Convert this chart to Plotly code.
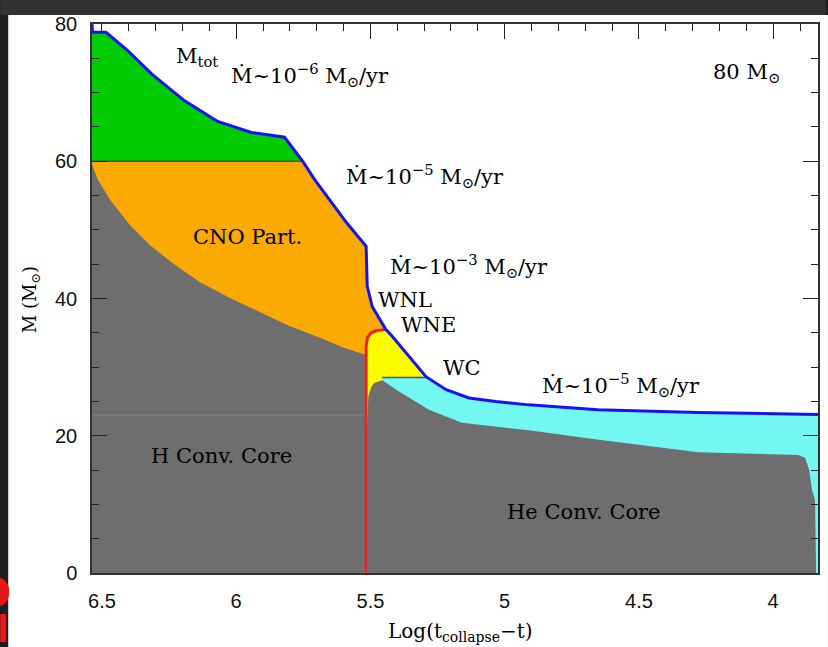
import plotly.graph_objects as go

# ---- data: mass structure of an 80 Msun star vs. log time to collapse ----
# total mass (blue track)
mtot_x = [6.537, 6.535, 6.485, 6.403, 6.314, 6.192, 6.069, 5.943, 5.820, 5.757, 5.752,
          5.709, 5.653, 5.590, 5.516, 5.512, 5.493, 5.456, 5.443, 5.419, 5.367, 5.293,
          5.218, 5.133, 5.033, 4.910, 4.652, 4.280, 3.833]
mtot_y = [80.0, 78.8, 78.8, 76.1, 72.7, 68.8, 65.8, 64.2, 63.5, 60.3, 60.0,
          57.4, 54.5, 51.1, 47.6, 41.8, 38.8, 36.5, 35.5, 34.5, 32.1, 28.6,
          26.7, 25.5, 25.0, 24.5, 23.8, 23.4, 23.1]

# top of the hydrogen convective core
hcore_x = [6.537, 6.515, 6.470, 6.396, 6.322, 6.229, 6.136, 6.025, 5.913, 5.802,
           5.690, 5.597, 5.519, 5.516]
hcore_y = [59.5, 57.3, 54.4, 50.7, 47.8, 44.9, 42.4, 40.1, 38.0, 36.0,
           34.3, 32.8, 31.8, 31.8]

# top of the helium convective core
hecore_x = [5.512, 5.512, 5.508, 5.497, 5.486, 5.467, 5.456, 5.404, 5.282, 5.159,
            4.910, 4.650, 4.279, 3.907, 3.881, 3.866, 3.855, 3.844, 3.840]
hecore_y = [0.0, 20.8, 25.7, 27.1, 27.7, 28.0, 28.1, 26.7, 23.8, 21.9,
            20.8, 19.4, 17.6, 17.2, 16.8, 15.0, 12.1, 10.6, 0.0]

# end of core H burning (red track): vertical drop and the cap below the surface
red_x = [5.516, 5.516, 5.511, 5.498, 5.478, 5.458, 5.443]
red_y = [0.0, 33.0, 34.3, 35.0, 35.3, 35.4, 35.5]

m_init = 60.0        # boundary between green and orange zones
wc_level = 28.5      # WNE / WC transition level
x_left, x_right = 6.537, 3.833

# phase labels: (text, x, y)
labels = [
    ("M<sub>tot</sub>", 6.147, 75.2),
    ("Ṁ~10<sup>−6</sup> M<sub>⊙</sub>/yr", 5.724, 72.6),
    ("80 M<sub>⊙</sub>", 4.100, 72.9),
    ("Ṁ~10<sup>−5</sup> M<sub>⊙</sub>/yr", 5.296, 57.9),
    ("CNO Part.", 5.958, 49.0),
    ("Ṁ~10<sup>−3</sup> M<sub>⊙</sub>/yr", 5.133, 44.8),
    ("WNL", 5.371, 39.8),
    ("WNE", 5.282, 36.2),
    ("WC", 5.159, 29.9),
    ("Ṁ~10<sup>−5</sup> M<sub>⊙</sub>/yr", 4.568, 27.4),
    ("H Conv. Core", 6.054, 17.1),
    ("He Conv. Core", 4.706, 8.9),
]

GREEN = "#00cc00"
ORANGE = "#fbaa04"
YELLOW = "#fcfc00"
CYAN = "#72f7f3"
GRAY = "#6e6e6e"
BLUE = "#1414f0"
RED = "#f02020"

i60 = mtot_y.index(m_init)
icap = mtot_x.index(red_x[-1])
iwc = mtot_x.index(5.293)

fig = go.Figure()


def poly(xs, ys, color):
    fig.add_trace(go.Scatter(x=xs, y=ys, fill="toself", fillcolor=color, mode="lines",
                             line=dict(width=0, color=color), hoverinfo="skip",
                             showlegend=False))


# orange zone (partial CNO processing) beneath the surface
poly([x_left, x_left] + mtot_x[i60:icap + 1] + [mtot_x[icap]],
     [0, m_init] + mtot_y[i60:icap + 1] + [0], ORANGE)
# green zone: outer layers above the initial convective core
poly(mtot_x[:i60 + 1] + [x_left], mtot_y[:i60 + 1] + [m_init], GREEN)
# yellow zone under the red cap (WNE)
poly(red_x + mtot_x[icap + 1:iwc + 1] + [mtot_x[iwc], hecore_x[6], hecore_x[6]],
     red_y + mtot_y[icap + 1:iwc + 1] + [wc_level, wc_level, 0], YELLOW)
# cyan zone (WC)
poly([hecore_x[6]] + mtot_x[iwc:] + [x_right, hecore_x[6]],
     [wc_level] + mtot_y[iwc:] + [0, 0], CYAN)
# H convective core
poly([x_left] + hcore_x + [hcore_x[-1]], [0] + hcore_y + [0], GRAY)
# He convective core
poly(hecore_x, hecore_y, GRAY)

# boundary lines
fig.add_trace(go.Scatter(x=[x_left, mtot_x[i60]], y=[m_init, m_init], mode="lines",
                         line=dict(color="#505050", width=1.5), hoverinfo="skip",
                         showlegend=False))
fig.add_trace(go.Scatter(x=[hecore_x[6], mtot_x[iwc]], y=[wc_level, wc_level], mode="lines",
                         line=dict(color="#505050", width=1.5), hoverinfo="skip",
                         showlegend=False))
fig.add_trace(go.Scatter(x=[x_left, hcore_x[-1]], y=[23.0, 23.0], mode="lines",
                         line=dict(color="#858585", width=1), hoverinfo="skip",
                         showlegend=False))
fig.add_trace(go.Scatter(x=red_x, y=red_y, mode="lines", line=dict(color=RED, width=3),
                         hoverinfo="skip", showlegend=False))
fig.add_trace(go.Scatter(x=mtot_x, y=mtot_y, mode="lines", line=dict(color=BLUE, width=3),
                         hoverinfo="skip", showlegend=False))

for txt, x, y in labels:
    fig.add_annotation(x=x, y=y, text=txt, showarrow=False,
                       font=dict(family="DejaVu Serif", size=21, color="black"))

# page geometry (pixels)
W, H = 828, 647
L, R, T, B = 92, 820, 24, 573


def px(xp):
    return (xp - L) / (R - L)


def py(yp):
    return (B - yp) / (B - T)


fig.add_annotation(x=px(462), y=py(632), xref="paper", yref="paper",
                   xanchor="center", yanchor="middle",
                   text="Log(t<sub>collapse</sub>−t)", showarrow=False,
                   font=dict(family="DejaVu Serif", size=20, color="black"))
fig.add_annotation(x=px(31), y=py(300), xref="paper", yref="paper",
                   xanchor="center", yanchor="middle",
                   text="M (M<sub>⊙</sub>)", showarrow=False, textangle=-90,
                   font=dict(family="DejaVu Serif", size=18, color="black"))

shapes = [
    # slide background strip at the top
    dict(type="rect", xref="paper", yref="paper", x0=px(0), x1=px(W), y0=py(15), y1=py(0),
         fillcolor="#313131", line=dict(width=0), layer="below"),
    # white panel holding the figure
    dict(type="rect", xref="paper", yref="paper", x0=px(8), x1=px(W + 2), y0=py(H + 2), y1=py(15),
         fillcolor="white", line=dict(width=0), layer="below"),
    # red logo fragment at the lower left
    dict(type="circle", xref="paper", yref="paper", x0=px(-12), x1=px(9), y0=py(606), y1=py(578),
         fillcolor="#e81818", line=dict(width=0), layer="below"),
    dict(type="rect", xref="paper", yref="paper", x0=px(0), x1=px(6), y0=py(642), y1=py(614),
         fillcolor="#e81818", line=dict(width=0), layer="below"),
]

fig.update_layout(
    width=W, height=H,
    margin=dict(l=L, r=W - R, t=T, b=H - B),
    paper_bgcolor="#1f1f1f", plot_bgcolor="white",
    shapes=shapes, showlegend=False,
    font=dict(family="Liberation Sans", size=20, color="black"),
)
fig.update_xaxes(range=[x_left, x_right], tickvals=[6.5, 6, 5.5, 5, 4.5, 4],
                 ticktext=["6.5", "6", "5.5", "5", "4.5", "4"],
                 ticks="inside", ticklen=15, tickwidth=1.2, tickcolor="#222",
                 minor=dict(dtick=0.1, tick0=0, ticks="inside", ticklen=7, tickcolor="#222"),
                 showline=True, linecolor="#333", linewidth=1.5, mirror="ticks",
                 showgrid=False, zeroline=False, layer="below traces",
                 ticklabelstandoff=9,
                 tickfont=dict(family="Liberation Sans", size=20, color="#111"))
fig.update_yaxes(range=[0, 80], tickvals=[0, 20, 40, 60, 80],
                 ticks="inside", ticklen=15, tickwidth=1.2, tickcolor="#222",
                 minor=dict(dtick=5, tick0=0, ticks="inside", ticklen=7, tickcolor="#222"),
                 showline=True, linecolor="#333", linewidth=1.5, mirror="ticks",
                 showgrid=False, zeroline=False, ticklabelstandoff=9,
                 tickfont=dict(family="Liberation Sans", size=20, color="#111"))

fig.write_html("out.html")
